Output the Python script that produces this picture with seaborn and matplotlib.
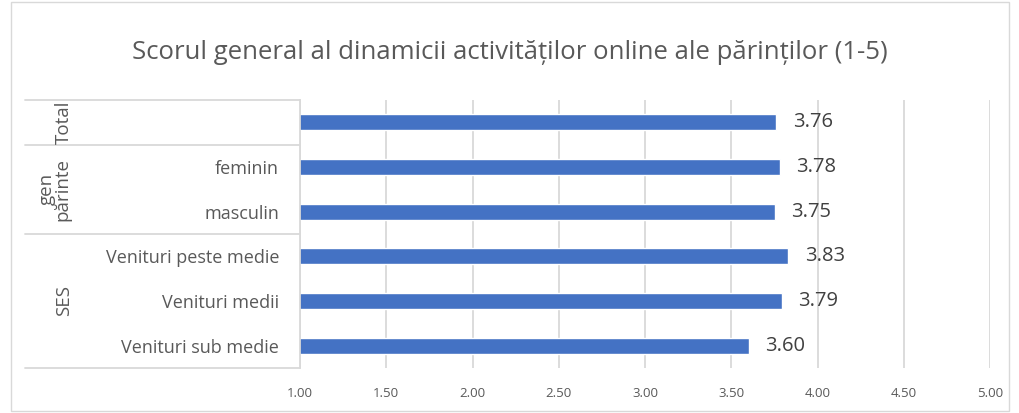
import numpy as np
import matplotlib
matplotlib.use("Agg")
import matplotlib.pyplot as plt
import matplotlib.transforms as mtransforms
from matplotlib.patches import Rectangle
import seaborn as sns
import pandas as pd

# data
categories = ["", "feminin", "masculin", "Venituri peste medie", "Venituri medii", "Venituri sub medie"]
groups = ["Total", "gen\npărinte", "SES"]
group_sizes = [1, 2, 3]
scores = [3.76, 3.78, 3.75, 3.83, 3.79, 3.60]
xticks = [1.0, 1.5, 2.0, 2.5, 3.0, 3.5, 4.0, 4.5, 5.0]

sns.set_theme(style="white")
plt.rcParams['font.family'] = ['Open Sans', 'DejaVu Sans']

df = pd.DataFrame({"pos": [str(i) for i in range(len(scores))], "score": scores})

fig = plt.figure(figsize=(10.2, 4.13), dpi=100)
ax = fig.add_axes([0.294, 0.109, 0.677, 0.649])
sns.barplot(data=df, x="score", y="pos", orient="h", color="#4472C4",
            width=0.36, saturation=1, ax=ax)

ax.set_xlim(1, 5)
ax.set_ylim(5.5, -0.5)
ax.set_xticks(xticks)
ax.set_xticklabels([f"{t:.2f}" for t in xticks], fontsize=9.5, color="#595959")
ax.tick_params(axis="x", length=0, pad=14)
ax.set_yticks(range(len(categories)))
ax.set_yticklabels(categories, fontsize=13, color="#595959")
ax.tick_params(axis="y", length=0, pad=15)
ax.set_xlabel("")
ax.set_ylabel("")
ax.grid(axis="x", color="#D9D9D9", linewidth=1.3)
ax.set_axisbelow(True)
for s in ["top", "right", "bottom"]:
    ax.spines[s].set_visible(False)
ax.spines["left"].set_color("#D9D9D9")
ax.spines["left"].set_linewidth(1.3)

for c in ax.containers:
    ax.bar_label(c, labels=[f"{v:.2f}" for v in scores], padding=12,
                 fontsize=14.5, color="#404040")

# group table lines and labels
trans = mtransforms.blended_transform_factory(ax.transAxes, ax.transData)
x0 = (25 - 300) / 690
bounds = [-0.5]
for n in group_sizes:
    bounds.append(bounds[-1] + n)
for b in bounds:
    ax.plot([x0, 0], [b, b], color="#D9D9D9", lw=1.3, transform=trans, clip_on=False)
group_x = [(64 - 300) / 690, (55 - 300) / 690, (64 - 300) / 690]
for i, g in enumerate(groups):
    mid = (bounds[i] + bounds[i + 1]) / 2
    ax.text(group_x[i], mid, g, rotation=90, ha="center", va="center",
            fontsize=13.5, color="#595959", transform=trans, linespacing=0.85)

fig.text(0.5, 0.874, "Scorul general al dinamicii activităților online ale părinților (1-5)",
         ha="center", va="center", fontsize=18.5, color="#595959")

fig.patches.append(Rectangle((0.011, 0.005), 0.978, 0.99, transform=fig.transFigure,
                             fill=False, edgecolor="#D9D9D9", lw=1))

fig.savefig("out.png", dpi=100)
